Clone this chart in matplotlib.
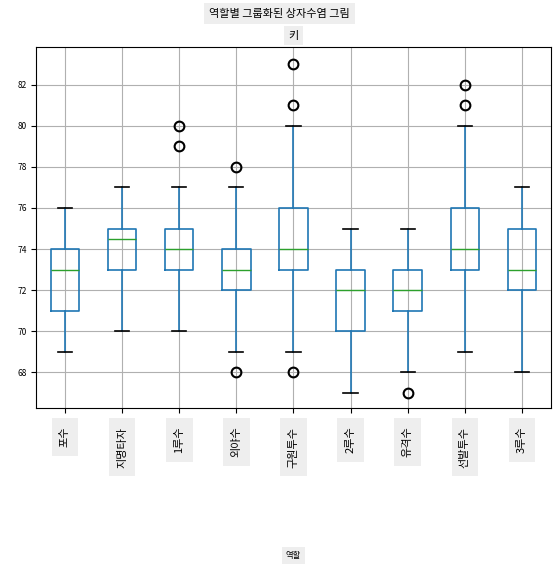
import matplotlib
matplotlib.use('Agg')
import matplotlib.pyplot as plt

plt.rcParams['font.family'] = ['Noto Sans CJK KR', 'DejaVu Sans']

roles = ['포수', '지명타자', '1루수', '외야수', '구원투수', '2루수', '유격수', '선발투수', '3루수']
whislo = [69, 70, 70, 69, 69, 67, 68, 69, 68]
q1 = [71, 73, 73, 72, 73, 70, 71, 73, 72]
med = [73, 74.5, 74, 73, 74, 72, 72, 74, 73]
q3 = [74, 75, 75, 74, 76, 73, 73, 76, 75]
whishi = [76, 77, 77, 77, 80, 75, 75, 80, 77]
fliers = [[], [], [79, 80], [68, 78], [68, 81, 83], [], [67], [81, 82], []]

stats = [dict(label=r, whislo=a, q1=b, med=c, q3=d, whishi=e, fliers=f)
         for r, a, b, c, d, e, f in zip(roles, whislo, q1, med, q3, whishi, fliers)]

fig, ax = plt.subplots(figsize=(5.59, 5.73), dpi=100)
ax.bxp(stats,
       boxprops=dict(color='#1f77b4', linewidth=1.2), whiskerprops=dict(color='#1f77b4', linewidth=1.2),
       capprops=dict(color='black', linewidth=1.2), medianprops=dict(color='#2ca02c'),
       flierprops=dict(marker='o', markerfacecolor='none', markeredgecolor='black',
                       markersize=7, markeredgewidth=1.5))
ax.grid(True, color='#b0b0b0')
ax.set_axisbelow(True)
ax.set_ylim(66.25, 83.85)
ax.set_yticks([68, 70, 72, 74, 76, 78, 80, 82])
ax.tick_params(axis='y', labelsize=6)
box = dict(facecolor='#eeeeee', edgecolor='none', pad=6)
for lab in ax.get_xticklabels():
    lab.set_rotation(90)
    lab.set_fontsize(8)
    lab.set_bbox(box)
ax.tick_params(axis='x', pad=10)
ax.set_xlabel('역할', fontsize=6, bbox=dict(facecolor='#eeeeee', edgecolor='none', pad=3), labelpad=60)
ax.set_title('키', fontsize=8, bbox=dict(facecolor='#eeeeee', edgecolor='none', pad=3))
fig.suptitle('역할별 그룹화된 상자수염 그림', fontsize=8, y=0.985,
             bbox=dict(facecolor='#eeeeee', edgecolor='none', pad=4))
fig.subplots_adjust(left=0.065, right=0.985, top=0.918, bottom=0.288)
fig.savefig('out.png', dpi=100)
